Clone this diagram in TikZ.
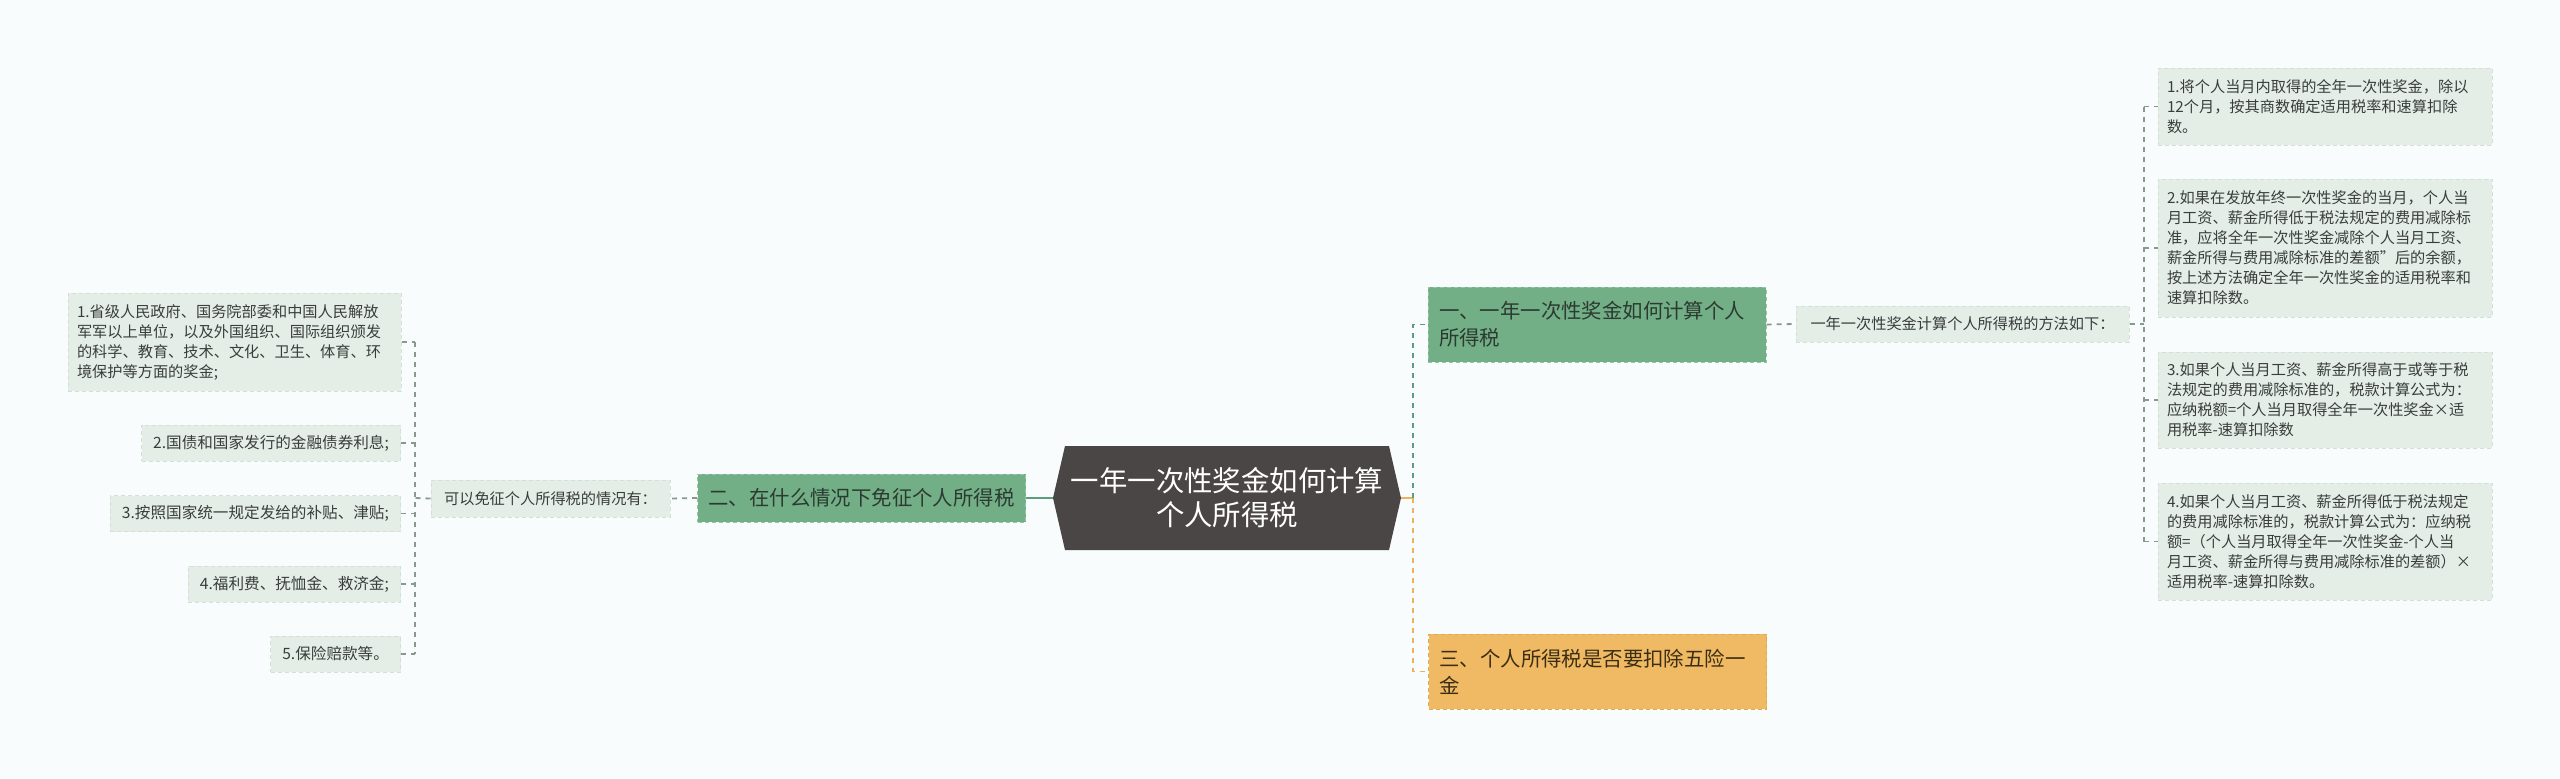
\documentclass[tikz,border=0pt]{standalone}
\usepackage{fontspec}
\setmainfont{Noto Sans CJK SC}
\usetikzlibrary{calc}
\definecolor{bgc}{HTML}{F8FCFC}
\definecolor{leaffill}{HTML}{E4EEE7}
\definecolor{leafdraw}{HTML}{D2E0D6}
\definecolor{greenfill}{HTML}{72AF86}
\definecolor{greendraw}{HTML}{93C6A4}
\definecolor{orangefill}{HTML}{F0B963}
\definecolor{orangedraw}{HTML}{E2A94F}
\definecolor{hexfill}{HTML}{4B4646}
\definecolor{conngray}{HTML}{8A9990}
\definecolor{conngreen}{HTML}{5C9D7D}
\definecolor{connorange}{HTML}{EDB35A}
\definecolor{leaftext}{HTML}{3A3D3B}
\definecolor{greentext}{HTML}{2C3A31}
\definecolor{orangetext}{HTML}{3B2E14}
\tikzset{
  leafbox/.style={rectangle, fill=leaffill, draw=leafdraw, dash pattern=on 2pt off 1.5pt, line width=0.5pt,
    inner xsep=4.5pt, inner ysep=0pt, align=left, text=leaftext,
    font=\fontsize{7.6pt}{10pt}\selectfont},
  shortleaf/.style={leafbox, inner xsep=5.8pt, minimum height=18pt, anchor=east,
    font=\fontsize{7.8pt}{10pt}\selectfont},
  greenbox/.style={rectangle, fill=greenfill, draw=greendraw, dash pattern=on 2pt off 1.5pt, line width=0.5pt,
    inner xsep=5.5pt, inner ysep=0pt, align=left, text=greentext,
    font=\fontsize{10.2pt}{13.5pt}\selectfont},
  orangebox/.style={greenbox, fill=orangefill, draw=orangedraw, text=orangetext},
  conn/.style={draw=conngray, line width=0.9pt, dash pattern=on 2.5pt off 2.5pt},
  gconn/.style={draw=conngreen, line width=0.9pt, dash pattern=on 2.5pt off 2.5pt},
  oconn/.style={draw=connorange, line width=0.9pt, dash pattern=on 2.5pt off 2.5pt},
  gsolid/.style={draw=conngreen, line width=1pt},
  osolid/.style={draw=connorange, line width=1pt},
  hexnode/.style={rectangle, inner sep=0pt, minimum width=174pt, minimum height=52pt,
    align=center, text=white, font=\fontsize{14.2pt}{17pt}\selectfont,
    path picture={\fill[hexfill] (path picture bounding box.west)
      -- ([xshift=6pt]path picture bounding box.north west)
      -- ([xshift=-6pt]path picture bounding box.north east)
      -- (path picture bounding box.east)
      -- ([xshift=-6pt]path picture bounding box.south east)
      -- ([xshift=6pt]path picture bounding box.south west) -- cycle;}}
}
\begin{document}
\begin{tikzpicture}[x=0.5pt,y=-0.5pt]
\fill[bgc] (0,0) rectangle (2560,778);
\useasboundingbox (0,0) rectangle (2560,778);

% centre
\node[hexnode] (c) at (1227,498) {一年一次性奖金如何计算\\个人所得税};

% left branch
\node[greenbox, minimum width=163.5pt, minimum height=24pt] (b2) at (861.5,498) {二、在什么情况下免征个人所得税};
\node[leafbox, minimum width=119.5pt, minimum height=18.5pt] (s2) at (550.5,498.5) {可以免征个人所得税的情况有：};
\node[leafbox, text width=157.5pt, minimum height=49pt] (L1) at (234.5,342) {1.省级人民政府、国务院部委和中国人民解放\\军军以上单位，以及外国组织、国际组织颁发\\的科学、教育、技术、文化、卫生、体育、环\\境保护等方面的奖金;};
\node[shortleaf] (L2) at (401,443) {2.国债和国家发行的金融债券利息;};
\node[shortleaf] (L3) at (401,513.5) {3.按照国家统一规定发给的补贴、津贴;};
\node[shortleaf] (L4) at (401,584) {4.福利费、抚恤金、救济金;};
\node[shortleaf] (L5) at (401,654) {5.保险赔款等。};

% right branch
\node[greenbox, text width=158pt, minimum height=37.5pt] (b1) at (1597,324.5) {一、一年一次性奖金如何计算个人\\所得税};
\node[leafbox, minimum width=166.5pt, minimum height=18pt] (s1) at (1962.5,324) {一年一次性奖金计算个人所得税的方法如下：};
\node[leafbox, text width=158pt, minimum height=38.5pt] (R1) at (2325,106.5) {1.将个人当月内取得的全年一次性奖金，除以\\12个月，按其商数确定适用税率和速算扣除\\数。};
\node[leafbox, text width=158pt, minimum height=69pt] (R2) at (2325,248) {2.如果在发放年终一次性奖金的当月，个人当\\月工资、薪金所得低于税法规定的费用减除标\\准，应将全年一次性奖金减除个人当月工资、\\薪金所得与费用减除标准的差额”后的余额，\\按上述方法确定全年一次性奖金的适用税率和\\速算扣除数。};
\node[leafbox, text width=158pt, minimum height=48pt] (R3) at (2325,400) {3.如果个人当月工资、薪金所得高于或等于税\\法规定的费用减除标准的，税款计算公式为：\\应纳税额=个人当月取得全年一次性奖金×适\\用税率-速算扣除数};
\node[leafbox, text width=158pt, minimum height=58.5pt] (R4) at (2325,541.5) {4.如果个人当月工资、薪金所得低于税法规定\\的费用减除标准的，税款计算公式为：应纳税\\额=（个人当月取得全年一次性奖金-个人当\\月工资、薪金所得与费用减除标准的差额）×\\适用税率-速算扣除数。};
\node[orangebox, text width=158pt, minimum height=37.5pt] (b3) at (1597.5,671.5) {三、个人所得税是否要扣除五险一\\金};

% junction coordinates
\coordinate (lv) at (415,498);
\coordinate (mv) at (1413,498);
\coordinate (rv) at (2144,324);

% connectors, centre
\draw[gsolid] (c.west) -- (b2.east);
\draw[osolid] (c.east) -- (mv);
\draw[gconn] (mv) |- (b1.west);
\draw[oconn] (mv) |- (b3.west);

% connectors, left
\draw[conn] (b2.west) -- (s2.east);
\draw[conn] (s2.west) -- (lv);
\draw[conn] (lv |- L1.east) -- (lv |- L5.east);
\foreach \n in {L1,L2,L3,L4,L5} {\draw[conn] (\n.east) -- (lv |- \n.east);}

% connectors, right
\draw[conn] (b1.east) -- (s1.west);
\draw[conn] (s1.east) -- (rv);
\draw[conn] (rv |- R1.west) -- (rv |- R4.west);
\foreach \n in {R1,R2,R3,R4} {\draw[conn] (rv |- \n.west) -- (\n.west);}
\end{tikzpicture}
\end{document}
